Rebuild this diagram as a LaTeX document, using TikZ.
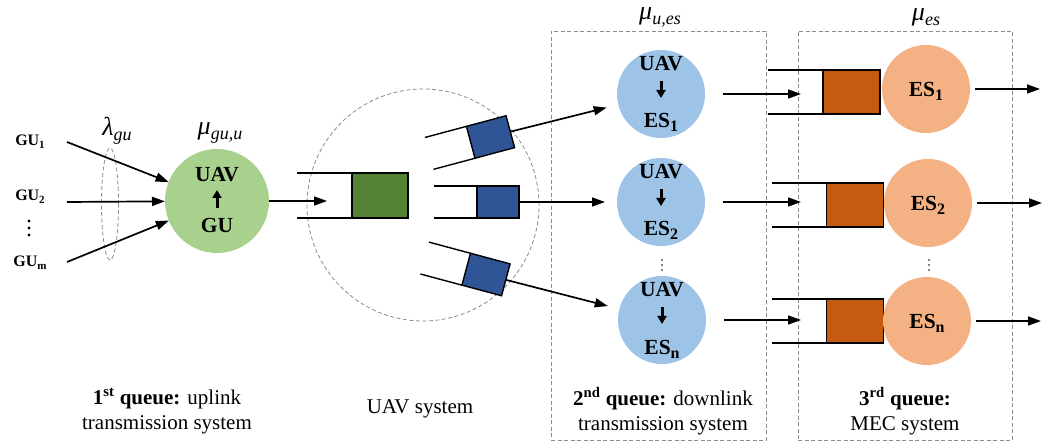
\documentclass[tikz,border=0pt]{standalone}
\usepackage{fontspec}
\setmainfont{Liberation Serif}
\usetikzlibrary{arrows.meta,calc,shapes.geometric}

\definecolor{upfill}{HTML}{A9D18E}
\definecolor{upq}{HTML}{548235}
\definecolor{dnfill}{HTML}{9DC3E6}
\definecolor{dnq}{HTML}{2F5597}
\definecolor{esfill}{HTML}{F4B183}
\definecolor{esq}{HTML}{C55A11}
\definecolor{framegray}{HTML}{8C8C8C}

% lowered index: shift, size, text
\newcommand{\subtxt}[3]{\raisebox{#1}{\fontsize{#2}{#2}\selectfont #3}}

\begin{document}
\begin{tikzpicture}[x=1pt, y=-1pt,
  conn/.style={line width=1.7pt, -{Triangle[length=13pt,width=9pt]}},
  inarrow/.style={line width=3pt, -{Triangle[length=8pt,width=9pt]}},
  qline/.style={line width=1.4pt},
  qbox/.style={draw=black, line width=1.4pt, inner sep=0pt, outer sep=0pt},
  srv/.style={circle, inner sep=0pt, outer sep=0pt, minimum size=88pt},
  srvtxt/.style={font=\fontsize{21.5}{21.5}\selectfont\bfseries, inner sep=0pt, anchor=base},
  gulbl/.style={font=\fontsize{16}{16}\selectfont\bfseries, inner sep=0pt},
  ratelbl/.style={font=\fontsize{26}{26}\selectfont\itshape, inner sep=0pt},
  captxt/.style={font=\fontsize{21}{25}\selectfont, align=center, inner sep=0pt},
  grayframe/.style={draw=framegray, dash pattern=on 4pt off 2.5pt, line width=0.8pt},
]
\useasboundingbox (0,0) rectangle (1046,443);

% ---- system frames ----
\node[grayframe, rectangle, minimum width=215pt, minimum height=409pt, inner sep=0pt] (dlframe) at (658.5,235.5) {};
\node[grayframe, rectangle, minimum width=214pt, minimum height=409pt, inner sep=0pt] (mecframe) at (905,235.5) {};
\node[grayframe, circle, minimum size=232pt, inner sep=0pt] (uavsys) at (423,205) {};

% ---- ground users ----
\node[gulbl] (gu1) at (30,142) {GU\subtxt{-3pt}{11}{1}};
\node[gulbl] (gu2) at (30,197) {GU\subtxt{-3pt}{11}{2}};
\node[gulbl] (gum) at (30,263) {GU\subtxt{-3pt}{11}{m}};
\foreach \y in {221,228,235} \fill (29,\y) circle (1.6pt);
\coordinate (src1) at (67,142);
\coordinate (src2) at (67,202);
\coordinate (srcm) at (67,262);

\node[grayframe, ellipse, minimum width=17pt, minimum height=112pt, inner sep=0pt] (lamset) at (110,204) {};
\node[ratelbl] (lamlbl) at (117,131) {λ\subtxt{-5pt}{18}{gu}};

% ---- 1st queue: uplink server ----
\node[srv, minimum size=104pt, fill=upfill] (upsrv) at (217,201) {};
\node[srvtxt] (uptop) at ($(upsrv)+(0,-19)$) {UAV};
\draw[inarrow] ($(upsrv)+(0,7)$) -- ($(upsrv)+(0,-11)$);
\node[srvtxt] (upbot) at ($(upsrv)+(0,32)$) {GU};
\node[ratelbl] (muup) at (220,133) {μ\subtxt{-5pt}{18}{gu,u}};

\draw[conn] (src1) -- (upsrv);
\draw[conn] (src2) -- (upsrv);
\draw[conn] (srcm) -- (upsrv);

% ---- UAV buffer ----
\node[qbox, fill=upq, minimum width=56pt, minimum height=45pt] (uavq) at (380,195.5) {};
\draw[qline] (uavq.north west) -- ++(-55,0);
\draw[qline] (uavq.south west) -- ++(-55,0);
\coordinate (uavin) at (327,201);
\draw[conn] (upsrv) -- (uavin);

% ---- per-ES downlink buffers ----
\begin{scope}[shift={(490.5,137)}, rotate=15, transform shape]
  \node[qbox, fill=dnq, minimum width=41pt, minimum height=33pt] (dq1) at (0,0) {};
  \draw[qline] (dq1.north west) -- ++(-43,0);
  \draw[qline] (dq1.south west) -- ++(-43,0);
\end{scope}
\node[qbox, fill=dnq, minimum width=42pt, minimum height=32pt] (dq2) at (498,202) {};
\draw[qline] (dq2.north west) -- ++(-43,0);
\draw[qline] (dq2.south west) -- ++(-43,0);
\begin{scope}[shift={(486,274.5)}, rotate=-15, transform shape]
  \node[qbox, fill=dnq, minimum width=41pt, minimum height=33pt] (dqn) at (0,0) {};
  \draw[qline] (dqn.north west) -- ++(-43,0);
  \draw[qline] (dqn.south west) -- ++(-43,0);
\end{scope}

% ---- 2nd queue: downlink servers ----
\node[srv, fill=dnfill] (dn1) at (661,94) {};
\node[srv, fill=dnfill] (dn2) at (661,202) {};
\node[srv, fill=dnfill] (dnn) at (662,320) {};
\foreach \s/\i in {dn1/1, dn2/2, dnn/n} {
  \node[srvtxt] (\s top) at ($(\s)+(0,-23)$) {UAV};
  \draw[inarrow] ($(\s)+(0,-13)$) -- ($(\s)+(0,4)$);
  \node[srvtxt] (\s bot) at ($(\s)+(0,34)$) {ES\subtxt{-4pt}{16}{\i}};
}
\foreach \y in {260,265,270} \fill (662,\y) circle (0.8pt);
\node[ratelbl] (mudn) at (660,17) {μ\subtxt{-5pt}{18}{u,es}};

\draw[conn, shorten >=12pt] (dq1.east) -- (dn1);
\draw[conn, shorten >=12pt] (dq2.east) -- (dn2);
\draw[conn, shorten >=12pt] (dqn.east) -- (dnn);

% ---- MEC buffers ----
\node[qbox, fill=esq, minimum width=57pt, minimum height=44pt] (eq1) at (851.5,92) {};
\node[qbox, fill=esq, minimum width=57pt, minimum height=44pt] (eq2) at (855,205) {};
\node[qbox, fill=esq, minimum width=57pt, minimum height=44pt] (eqn) at (855,321) {};
\foreach \q in {eq1, eq2, eqn} {
  \draw[qline] (\q.north west) -- ++(-55,0);
  \draw[qline] (\q.south west) -- ++(-55,0);
}
\coordinate (esin1) at (801,94);
\coordinate (esin2) at (801,202);
\coordinate (esinn) at (801,320);
\draw[conn] ([xshift=18pt]dn1.east) -- (esin1);
\draw[conn] ([xshift=18pt]dn2.east) -- (esin2);
\draw[conn] ([xshift=18pt]dnn.east) -- (esinn);

% ---- 3rd queue: MEC servers ----
\node[srv, fill=esfill] (es1) at (926,89) {};
\node[srv, fill=esfill] (es2) at (928,203) {};
\node[srv, fill=esfill] (esn) at (927,321) {};
\foreach \s/\i in {es1/1, es2/2, esn/n} {
  \node[srvtxt] (\s lbl) at ($(\s)+(0,8)$) {ES\subtxt{-4pt}{16}{\i}};
  \coordinate (\s out) at ($(\s.east)+(70,0)$);
  \draw[conn] ([xshift=5pt]\s.east) -- (\s out);
}
\foreach \y in {260,265,270} \fill (929,\y) circle (0.8pt);
\node[ratelbl] (mues) at (926,17) {μ\subtxt{-5pt}{18}{es}};

% ---- captions ----
\node[captxt] (cap1) at (167,411) {\textbf{1\textsuperscript{st} queue:} uplink\\transmission system};
\node[captxt] (cap2) at (420,409) {UAV system};
\node[captxt] (cap3) at (663,411) {\textbf{2\textsuperscript{nd} queue:} downlink\\transmission system};
\node[captxt] (cap4) at (905,411) {\textbf{3\textsuperscript{rd} queue:}\\MEC system};
\end{tikzpicture}
\end{document}
